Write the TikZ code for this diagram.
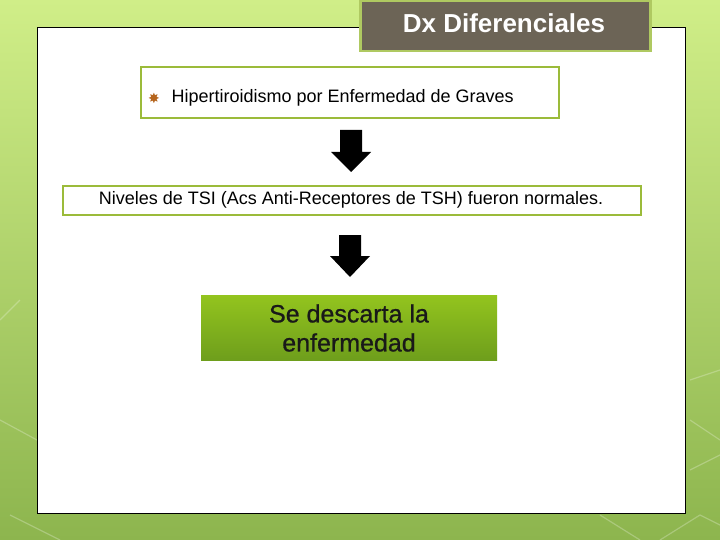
\documentclass[tikz,border=0pt]{standalone}
\usepackage{fontspec}
\setmainfont{Liberation Sans}
\newfontfamily\symfont{DejaVu Sans}
\newfontfamily\heavyfont[FakeBold=0.8]{Liberation Sans}
\definecolor{bgtop}{HTML}{D0EE88}
\definecolor{bgbot}{HTML}{8DB54E}
\definecolor{frame}{HTML}{9BBB3A}
\definecolor{titlefill}{HTML}{6C6456}
\definecolor{gtop}{HTML}{93C41E}
\definecolor{gbot}{HTML}{6E9E1C}
\definecolor{starc}{HTML}{B5651D}
\begin{document}
\begin{tikzpicture}[x=1pt,y=-1pt,
  box/.style={draw=frame,line width=2pt,fill=white,inner sep=0pt},
  blockarrow/.style={fill=black}]
\useasboundingbox (0,0) rectangle (720,540);
\shade[top color=bgtop,bottom color=bgbot] (0,0) rectangle (720,540);
\begin{scope}[draw=white,opacity=0.25,line width=1.2pt]
\draw (690,380) -- (720,370);
\draw (690,420) -- (720,440);
\draw (690,470) -- (720,455);
\draw (600,515) -- (640,540);
\draw (660,540) -- (700,515) -- (720,525);
\draw (20,300) -- (0,320);
\draw (0,420) -- (37,440);
\draw (10,515) -- (60,540);
\end{scope}
\node[draw=black,line width=0.8pt,fill=white,minimum width=648pt,minimum height=486pt,anchor=north west,inner sep=0pt] (panel) at (37,27) {};
\node[draw=frame!80!white,line width=2.5pt,fill=titlefill,minimum width=290pt,minimum height=50pt,anchor=north west,inner sep=0pt] (title) at (359,0) {};
\node[text=white,font=\bfseries\fontsize{26}{30}\selectfont] (tt) at (504,23) {Dx Diferenciales};
\node[box,minimum width=418pt,minimum height=51pt,anchor=north west] (b1) at (140,66) {};
\node[anchor=center,text=starc,font=\symfont\fontsize{14}{14}\selectfont] (star) at (154,98) {✸};
\node[anchor=west,font=\fontsize{18}{21}\selectfont] (t1) at (168,98) {Hipertiroidismo por Enfermedad de Graves};
\node[box,minimum width=578pt,minimum height=29pt,anchor=north west] (b2) at (62,185) {};
\node[font=\fontsize{18}{21}\selectfont] (t2) at (351,200) {Niveles de TSI (Acs Anti-Receptores de TSH) fueron normales.};
\node[draw=none,top color=gtop,bottom color=gbot,minimum width=296pt,minimum height=65pt,anchor=north west,inner sep=0pt] (b3) at (201,295) {};
\node[align=center,font=\heavyfont\fontsize{25}{29}\selectfont,text=black!90] (t3) at (349,328) {Se descarta la\\enfermedad};
\coordinate (a1) at (351,130);
\coordinate (a2) at (350,235);
\fill[blockarrow] (a1) ++(-11,0) -- ++(22,0) -- ++(0,22) -- ++(9,0) -- ++(-20,20) -- ++(-20,-20) -- ++(9,0) -- cycle;
\fill[blockarrow] (a2) ++(-11,0) -- ++(22,0) -- ++(0,21) -- ++(9,0) -- ++(-20,21) -- ++(-20,-21) -- ++(9,0) -- cycle;
\end{tikzpicture}
\end{document}
